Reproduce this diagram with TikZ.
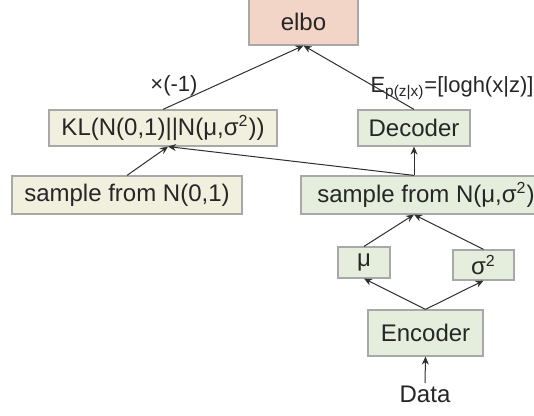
\documentclass[tikz,border=0pt]{standalone}
\usepackage{fontspec}
\setmainfont{Liberation Sans}
\usetikzlibrary{arrows.meta}

\definecolor{boxline}{HTML}{A8A8A8}
\definecolor{lossfill}{HTML}{F3D5C7}
\definecolor{priorfill}{HTML}{F1F0DF}
\definecolor{netfill}{HTML}{E5EDDC}
\definecolor{edgeline}{HTML}{2E2E2E}

\begin{document}
\begin{tikzpicture}[x=0.5pt, y=-0.5pt,
			font=\fontsize{12}{14}\selectfont,
			box/.style={
				draw = boxline,
				line width = 0.6pt,
				inner sep = 0pt,
				text = black!85},
			arr/.style={
				draw = edgeline,
				line width = 0.5pt,
				-{Stealth[length=4pt, width=3.5pt]}},
			tag/.style={
				font = \fontsize{11}{13}\selectfont,
				text = black!85,
				inner sep = 0pt}]
			\useasboundingbox (0, 0) rectangle (534, 416);
			% boxes
			\node (elbo) at (303.5, 22) [box, fill=lossfill, minimum width=54.5pt, minimum height=23pt] {elbo};
			\node (kl) at (163, 128) [box, fill=priorfill, minimum width=114pt, minimum height=18pt] {KL(N(0,1)||N(μ,σ\textsuperscript{2}))};
			\node (decoder) at (414, 128) [box, fill=netfill, minimum width=56pt, minimum height=18pt] {Decoder};
			\node (sampleStd) at (127, 195) [box, fill=priorfill, minimum width=115pt, minimum height=19pt] {sample from N(0,1)};
			\node (sampleZ) at (426, 195) [box, fill=netfill, minimum width=125pt, minimum height=19pt] {sample from N(μ,σ\textsuperscript{2})};
			\node (mu) at (364, 262.5) [box, fill=netfill, minimum width=26pt, minimum height=15.5pt] {μ};
			\node (sigma) at (483.5, 265) [box, fill=netfill, minimum width=30.5pt, minimum height=15pt] {σ\textsuperscript{2}};
			\node (encoder) at (425.5, 333) [box, fill=netfill, minimum width=57.5pt, minimum height=23pt] {Encoder};
			\node (data) at (425, 394) [inner sep=1pt, text=black!85] {Data};
			% edge labels
			\node (neg) at (174, 86) [tag] {×(-1)};
			\node (recon) at (452, 88) [tag] {E\textsubscript{p(z|x)}=[logh(x|z)]};
			% edges
			\draw[arr] (kl.north) -- (elbo.south);
			\draw[arr] (decoder.north) -- (elbo.south);
			\draw[arr] (sampleStd.north) -- ([xshift=2.5pt]kl.south);
			\draw[arr] (sampleZ.north -| decoder.south) -- ([xshift=2.5pt]kl.south);
			\draw[arr] (sampleZ.north -| decoder.south) -- (decoder.south);
			\draw[arr] (mu.north) -- (sampleZ.south -| decoder.south);
			\draw[arr] (sigma.north) -- (sampleZ.south -| decoder.south);
			\draw[arr] (encoder.north) -- (mu.south);
			\draw[arr] (encoder.north) -- (sigma.south);
			\draw[arr] (data.north) -- (encoder.south);
\end{tikzpicture}
\end{document}
